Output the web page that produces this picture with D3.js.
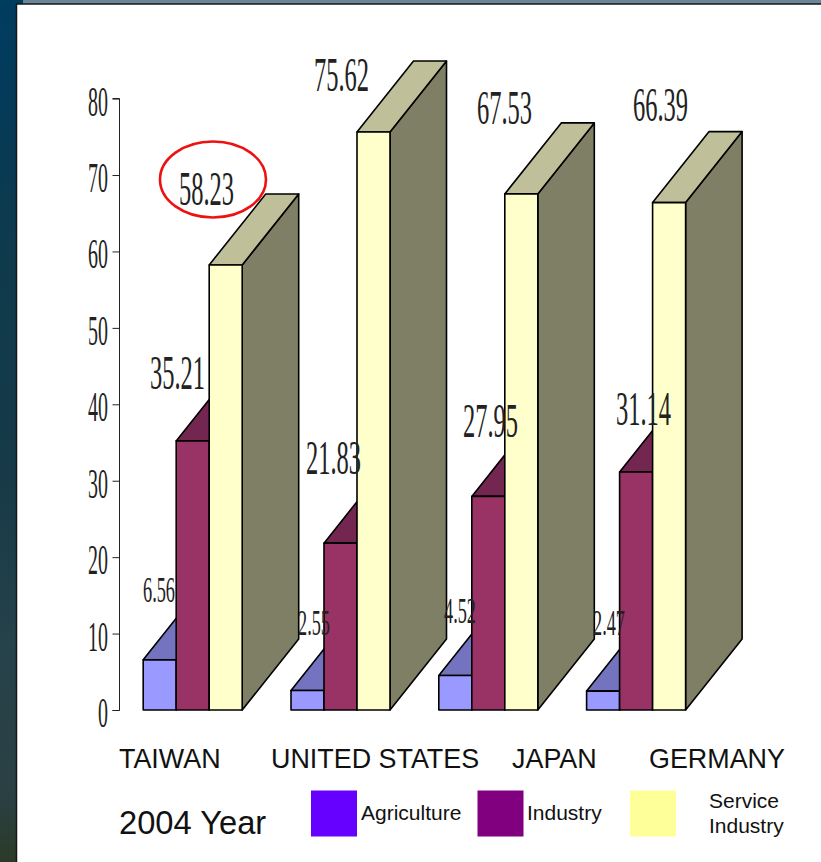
<!DOCTYPE html>
<html><head><meta charset="utf-8">
<script src="https://cdnjs.cloudflare.com/ajax/libs/d3/7.8.5/d3.min.js"></script>
<style>html,body{margin:0;padding:0;background:#fff;overflow:hidden}svg{display:block}</style>
</head><body><svg id="c" width="821" height="862"></svg>
<script>
// Data
const countries = ["TAIWAN","UNITED STATES","JAPAN","GERMANY"];
const seriesNames = ["Agriculture","Industry","Service Industry"];
const agriculture = [6.56,2.55,4.52,2.47];
const industry = [35.21,21.83,27.95,31.14];
const service = [58.23,75.62,67.53,66.39];
const yTicks = [0,10,20,30,40,50,60,70,80];
const yearLabel = "2004 Year";

// Layout
const svg = d3.select("#c");
const defs = svg.append("defs");
const bgGrad = defs.append("linearGradient").attr("id","bg").attr("x1",0).attr("x2",0).attr("y1",0).attr("y2",1);
[[0,"#003c60"],[0.12,"#053a58"],[0.3,"#0f3a4c"],[0.55,"#163a48"],[0.75,"#26424a"],[0.92,"#2a4044"],[1,"#2b3a28"]].forEach(d=>
  bgGrad.append("stop").attr("offset",d[0]).attr("stop-color",d[1]));
svg.append("rect").attr("width",821).attr("height",862).attr("fill","url(#bg)");
svg.append("rect").attr("x",23).attr("width",798).attr("height",4).attr("fill","#6b8797");
svg.append("rect").attr("x",16.5).attr("y",4).attr("width",900).attr("height",900).attr("fill","#fff").attr("stroke","#14181b").attr("stroke-width",1.5);

const y = d3.scaleLinear().domain([0,80]).range([710,98.6]);
const xGroup = d3.scaleBand().domain(countries).range([143.2,734.4]).paddingInner(0);
const barW = 33;
const depthX = 56.5, depthY = 71;
const fronts = ["#9999ff","#993366","#ffffcc"];
const tops = ["#7373bf","#732650","#bfbf99"];
const side = ["#73739f","#732650","#7f7f66"];
const values = [agriculture,industry,service];
const line = d3.line();

// Axis
const axisG = svg.append("g").attr("transform","translate(119.5,0)");
axisG.call(d3.axisLeft(y).tickValues(yTicks).tickSize(7).tickPadding(0).tickFormat(()=>""));
axisG.select(".domain").attr("stroke","#222").attr("d","M-7,98.5H0V710.5H-7");
axisG.selectAll(".tick line").attr("stroke","#222");
const serif = "'Liberation Serif','Times New Roman',serif";
function squeezed(sel, txt, x, yy, size, sx, anchor){
  sel.append("text").attr("transform",`translate(${x},${yy}) scale(${sx},1)`)
    .attr("text-anchor",anchor).attr("font-family",serif).attr("font-size",size).attr("fill","#222").text(txt);
}
yTicks.forEach(t=>squeezed(svg,String(t),108,y(t)+17,41.5,0.48,"end"));

// Bars
countries.forEach((c,ci)=>{
  const x0 = xGroup(c);
  values.forEach((vals,si)=>{
    const xl = x0 + si*barW, xr = xl + barW, yt = y(vals[ci]), yb = y(0);
    const g = svg.append("g").attr("stroke","#000").attr("stroke-width",1.6).attr("stroke-linejoin","round");
    g.append("path").attr("fill",side[si]).attr("d",line([[xr,yt],[xr+depthX,yt-depthY],[xr+depthX,yb-depthY],[xr,yb]])+"Z");
    g.append("path").attr("fill",tops[si]).attr("d",line([[xl,yt],[xl+depthX,yt-depthY],[xr+depthX,yt-depthY],[xr,yt]])+"Z");
    g.append("rect").attr("x",xl).attr("y",yt).attr("width",barW).attr("height",yb-yt).attr("fill",fronts[si]);
  });
});

// Value labels: [start x, baseline] hand-placed per series and country
const labelPos = [
  [[143,602],[298,635],[444,623],[593,635]],
  [[150,389],[306,474],[463,437],[616,425]],
  [[179,205],[314,91],[477,124],[633,121]]
];
values.forEach((vals,si)=>vals.forEach((v,ci)=>{
  const p = labelPos[si][ci];
  if(si===0) squeezed(svg,v.toFixed(2),p[0],p[1],35.5,0.515,"start");
  else squeezed(svg,v.toFixed(2),p[0],p[1],48,0.51,"start");
}));

// Highlight ellipse
svg.append("ellipse").attr("cx",213).attr("cy",179.5).attr("rx",53).attr("ry",38)
  .attr("fill","none").attr("stroke","#ee1111").attr("stroke-width",2.6);

// Category labels
const sans = "'Liberation Sans',Arial,sans-serif";
const catX = [119,271,512,649];
countries.forEach((c,i)=>svg.append("text").attr("x",catX[i]).attr("y",768).attr("font-family",sans).attr("font-size",26.9).attr("fill","#111").text(c));
svg.append("text").attr("x",119).attr("y",834).attr("font-family",sans).attr("font-size",32.7).attr("fill","#111").text(yearLabel);

// Legend
const legendColors = ["#6600ff","#800080","#ffff99"];
const legendX = [311,477.5,630];
seriesNames.forEach((n,i)=>svg.append("rect").attr("x",legendX[i]).attr("y",790.5).attr("width",46).attr("height",46).attr("fill",legendColors[i]));
const legendText = (t,x,yy)=>svg.append("text").attr("x",x).attr("y",yy).attr("font-family",sans).attr("font-size",21).attr("fill","#111").text(t);
legendText(seriesNames[0],361,820);
legendText(seriesNames[1],527,820);
const parts = seriesNames[2].split(" ");
legendText(parts[0],709,808);
legendText(parts[1],709,833);
</script></body></html>
